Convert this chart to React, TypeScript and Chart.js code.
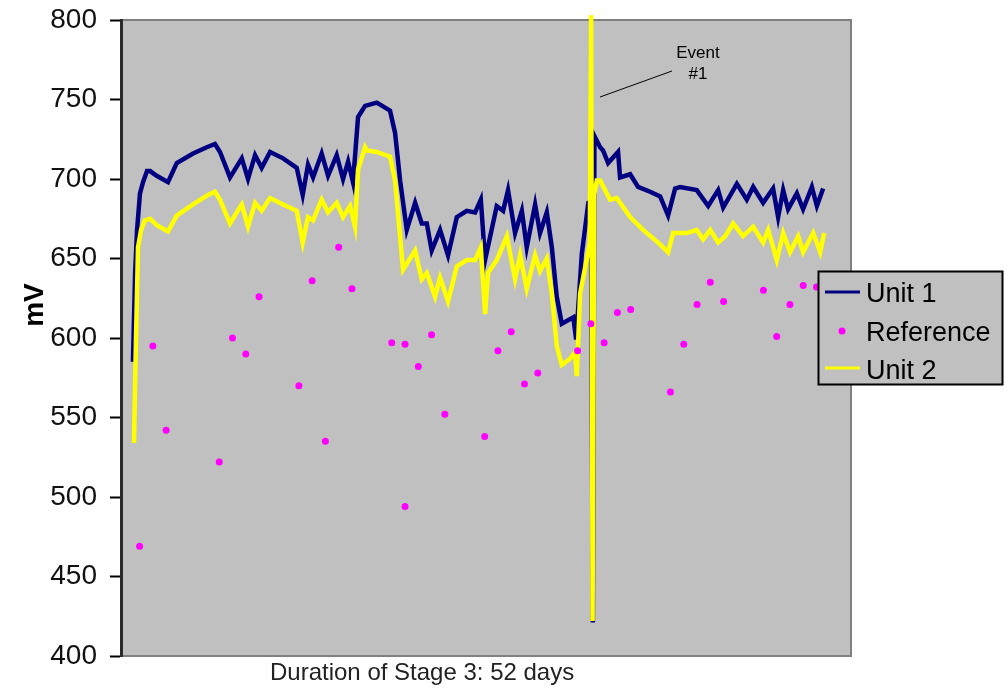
import React, { useEffect, useRef } from "react";
import { Chart, registerables } from "chart.js";

Chart.register(...registerables);

const FONT = '"Liberation Sans", Arial, Helvetica, sans-serif';

// Y axis ticks (mV)
const yTicks = [400, 450, 500, 550, 600, 650, 700, 750, 800];

// Unit 1 (navy) – day, mV
const unit1Days = [
  0.5, 0.66, 0.81, 1.03, 1.26, 1.56, 1.79, 2.29, 3.14, 3.8, 5.03, 6.06, 6.68, 7.06, 7.81, 8.7, 9.17, 9.7, 10.2,
  10.83, 11.81, 12.84, 13.29, 13.69, 14.07, 14.72, 15.2, 15.85, 16.33, 16.71, 17.08, 17.46, 17.99, 18.87, 19.87,
  20.25, 20.63, 21.13, 21.76, 22.26, 22.64, 23.01, 23.64, 24.24, 24.9, 25.65, 26.28, 26.71, 27.03, 27.91, 28.39,
  28.76, 29.29, 29.8, 30.17, 30.8, 31.17, 31.68, 32.06, 32.43, 32.81, 33.68, 33.89, 34.32, 34.81, 35.0, 35.15, 35.27,
  35.7, 35.92, 36.3, 37.05, 37.2, 37.96, 38.56, 39.46, 40.22, 40.82, 41.35, 41.73, 42.98, 43.84, 44.59, 44.97,
  46.0, 46.75, 47.23, 47.98, 48.73, 49.11, 49.49, 49.86, 50.52, 50.99, 51.65, 52.03, 52.5,
];
const unit1Values = [
  585, 640, 668, 691, 698, 705, 705, 702, 698, 710, 716, 720, 722, 717, 701, 713, 700, 715, 707,
  717, 713, 707, 690, 709, 701, 716, 702, 715, 700, 711, 698, 739, 746, 748, 743,
  729, 699, 668, 685, 672, 672, 655, 668, 652, 676, 680, 679, 687, 649, 683, 680,
  693, 666, 680, 657, 684, 666, 679, 657, 626, 609, 613, 599, 653, 685, 686, 421, 727,
  720, 718, 710, 717, 701, 703, 695, 692, 689, 677, 694, 695, 693, 683, 693, 682,
  697, 687, 695, 685, 694, 676, 693, 681, 691, 681, 695, 683, 694,
];

// Reference (magenta points) – day, mV
const refDays = [
  1, 2, 3, 7, 8, 9, 10, 13, 14, 15, 16, 17, 20, 21, 21, 22, 23, 24, 27, 28, 29, 30, 31, 34, 35, 36, 37, 38, 41,
  42, 43, 44, 45, 48, 49, 50, 51, 52,
];
const refValues = [
  469, 595, 542, 522, 600, 590, 626, 570, 636, 535, 657, 631, 597, 596, 494, 582, 602, 552, 538, 592, 604, 571,
  578, 592, 609, 597, 616, 618, 566, 596, 621, 635, 623, 630, 601, 621, 633, 632,
];

// Unit 2 (yellow) – day, mV
const unit2Days = [
  0.58, 0.73, 0.88, 1.11, 1.41, 1.79, 2.29, 3.14, 3.8, 5.03, 6.16, 6.68, 7.06, 7.81, 8.7, 9.17, 9.7, 10.2, 10.83,
  11.81, 12.84, 13.29, 13.69, 14.07, 14.72, 15.2, 15.85, 16.33, 16.86, 17.23, 17.46, 17.99, 18.12, 18.87, 19.87,
  20.25, 20.85, 21.76, 22.26, 22.64, 23.26, 23.64, 24.24, 24.9, 25.65, 26.28, 26.71, 27.03, 27.26, 27.91, 28.67,
  29.29, 29.67, 30.17, 30.8, 31.17, 31.68, 32.06, 32.43, 32.81, 33.44, 33.81, 33.94, 34.19, 34.81, 34.92, 35.02,
  35.13, 35.25, 35.45, 35.7, 36.45, 36.95, 37.96, 38.94, 40.07, 40.82, 41.2, 42.23, 42.98, 43.46, 43.99, 44.59,
  45.12, 45.72, 46.47, 47.23, 47.98, 48.36, 49.01, 49.49, 50.01, 50.62, 50.99, 51.75, 52.28, 52.58,
];
const unit2Values = [
  534, 600, 657, 668, 674, 675, 671, 667, 677, 684, 690, 692, 687, 672, 684, 670, 685, 680, 688,
  684, 680, 660, 676, 674, 687, 679, 685, 676, 683, 670, 706, 720, 718, 717, 714,
  699, 643, 655, 637, 641, 626, 638, 623, 645, 649, 649, 657, 615, 641, 649, 664,
  637, 652, 631, 652, 642, 650, 628, 595, 583, 587, 591, 576, 628, 655, 660, 803,
  422, 690, 699, 699, 687, 688, 676, 668, 660, 654, 666, 666, 668, 662, 668, 660,
  664, 672, 664, 670, 660, 668, 649, 666, 654, 664, 654, 666, 654, 666,
];

const seriesNames = ["Unit 1", "Reference", "Unit 2"];
const xTitle = "Duration of Stage 3: 52 days";
const yTitle = "mV";
const eventLabel = ["Event", "#1"];

const NAVY = "#000080";
const YELLOW = "#FFFF00";
const MAGENTA = "#FF00FF";

const toXY = (xs: number[], ys: number[]) => xs.map((x, i) => ({ x, y: ys[i] }));

const decor = {
  id: "decor",
  beforeDraw(chart: any) {
    const { ctx, chartArea: a } = chart;
    ctx.save();
    ctx.fillStyle = "#ffffff";
    ctx.fillRect(0, 0, chart.width, chart.height);
    ctx.fillStyle = "#C0C0C0";
    ctx.fillRect(a.left, a.top, a.right - a.left, a.bottom - a.top);
    ctx.strokeStyle = "#808080";
    ctx.lineWidth = 2;
    ctx.beginPath();
    ctx.moveTo(a.left, a.top);
    ctx.lineTo(a.right, a.top);
    ctx.lineTo(a.right, a.bottom);
    ctx.lineTo(a.left, a.bottom);
    ctx.stroke();
    ctx.restore();
  },
  afterDraw(chart: any) {
    const { ctx } = chart;
    ctx.save();
    // Event annotation
    ctx.fillStyle = "#000";
    ctx.font = `17px ${FONT}`;
    ctx.textAlign = "center";
    ctx.textBaseline = "alphabetic";
    ctx.fillText(eventLabel[0], 698, 58);
    ctx.fillText(eventLabel[1], 698, 79);
    ctx.strokeStyle = "#000";
    ctx.lineWidth = 1;
    ctx.beginPath();
    ctx.moveTo(600, 97);
    ctx.lineTo(672, 71);
    ctx.stroke();

    // Legend box
    const lx = 818.5, ly = 271.5, lw = 184, lh = 113;
    ctx.fillStyle = "#C0C0C0";
    ctx.fillRect(lx, ly, lw, lh);
    ctx.strokeStyle = "#000";
    ctx.lineWidth = 2;
    ctx.strokeRect(lx, ly, lw, lh);
    ctx.lineWidth = 3;
    ctx.strokeStyle = NAVY;
    ctx.beginPath();
    ctx.moveTo(825, 292);
    ctx.lineTo(860, 292);
    ctx.stroke();
    ctx.strokeStyle = YELLOW;
    ctx.beginPath();
    ctx.moveTo(825, 368);
    ctx.lineTo(860, 368);
    ctx.stroke();
    ctx.fillStyle = MAGENTA;
    ctx.beginPath();
    ctx.arc(842, 331, 3.5, 0, Math.PI * 2);
    ctx.fill();
    ctx.fillStyle = "#000";
    ctx.font = `27px ${FONT}`;
    ctx.textAlign = "left";
    ctx.fillText(seriesNames[0], 866, 302);
    ctx.fillText(seriesNames[1], 866, 341);
    ctx.fillText(seriesNames[2], 866, 379);

    // X axis title
    ctx.fillStyle = "#222";
    ctx.font = `24px ${FONT}`;
    ctx.textAlign = "left";
    ctx.fillText(xTitle, 270, 680);

    // Y axis title
    ctx.translate(35, 305);
    ctx.rotate(-Math.PI / 2);
    ctx.fillStyle = "#000";
    ctx.font = `bold 28px ${FONT}`;
    ctx.textAlign = "center";
    ctx.textBaseline = "middle";
    ctx.fillText(yTitle, 0, 0);
    ctx.restore();
  },
};

export default function App() {
  const ref = useRef<HTMLCanvasElement | null>(null);
  useEffect(() => {
    if (!ref.current) return;
    const chart = new Chart(ref.current, {
      type: "line",
      data: {
        datasets: [
          {
            label: seriesNames[1],
            data: toXY(refDays, refValues),
            showLine: false,
            pointRadius: 3.5,
            pointHoverRadius: 3.5,
            pointStyle: "circle",
            pointBackgroundColor: MAGENTA,
            pointBorderColor: MAGENTA,
            pointBorderWidth: 0,
            backgroundColor: MAGENTA,
            borderColor: MAGENTA,
            order: 0,
          },
          {
            label: seriesNames[2],
            data: toXY(unit2Days, unit2Values),
            borderColor: YELLOW,
            backgroundColor: YELLOW,
            borderWidth: 4.5,
            pointRadius: 0,
            tension: 0,
            order: 1,
            clip: { left: 0, top: 5, right: 0, bottom: 0 },
          },
          {
            label: seriesNames[0],
            data: toXY(unit1Days, unit1Values),
            borderColor: NAVY,
            backgroundColor: NAVY,
            borderWidth: 4.5,
            pointRadius: 0,
            tension: 0,
            order: 2,
          },
        ] as any,
      },
      options: {
        animation: false,
        responsive: false,
        devicePixelRatio: 1,
        layout: { padding: { left: 0, top: 20, right: 153, bottom: 32 } },
        plugins: { legend: { display: false }, tooltip: { enabled: false } },
        scales: {
          x: {
            type: "linear",
            min: -0.4,
            max: 54.6,
            display: false,
          },
          y: {
            min: 400,
            max: 800,
            afterFit: (s: any) => {
              s.width = 121;
            },
            afterBuildTicks: (s: any) => {
              s.ticks = yTicks.map((v) => ({ value: v }));
            },
            ticks: {
              color: "#111",
              font: { family: FONT, size: 28, lineHeight: 0.5 },
              padding: 13,
            },
            grid: {
              drawOnChartArea: false,
              drawTicks: true,
              tickLength: 11,
              tickColor: "#000",
              tickWidth: 2,
            },
            border: { display: true, color: "#2a2a2a", width: 3 },
          },
        },
      } as any,
      plugins: [decor],
    });
    return () => chart.destroy();
  }, []);
  return (
    <div style={{ position: "fixed", left: 0, top: 0, width: 1004, height: 688, background: "#fff" }}>
      <canvas ref={ref} width={1004} height={688} style={{ display: "block" }} />
    </div>
  );
}
